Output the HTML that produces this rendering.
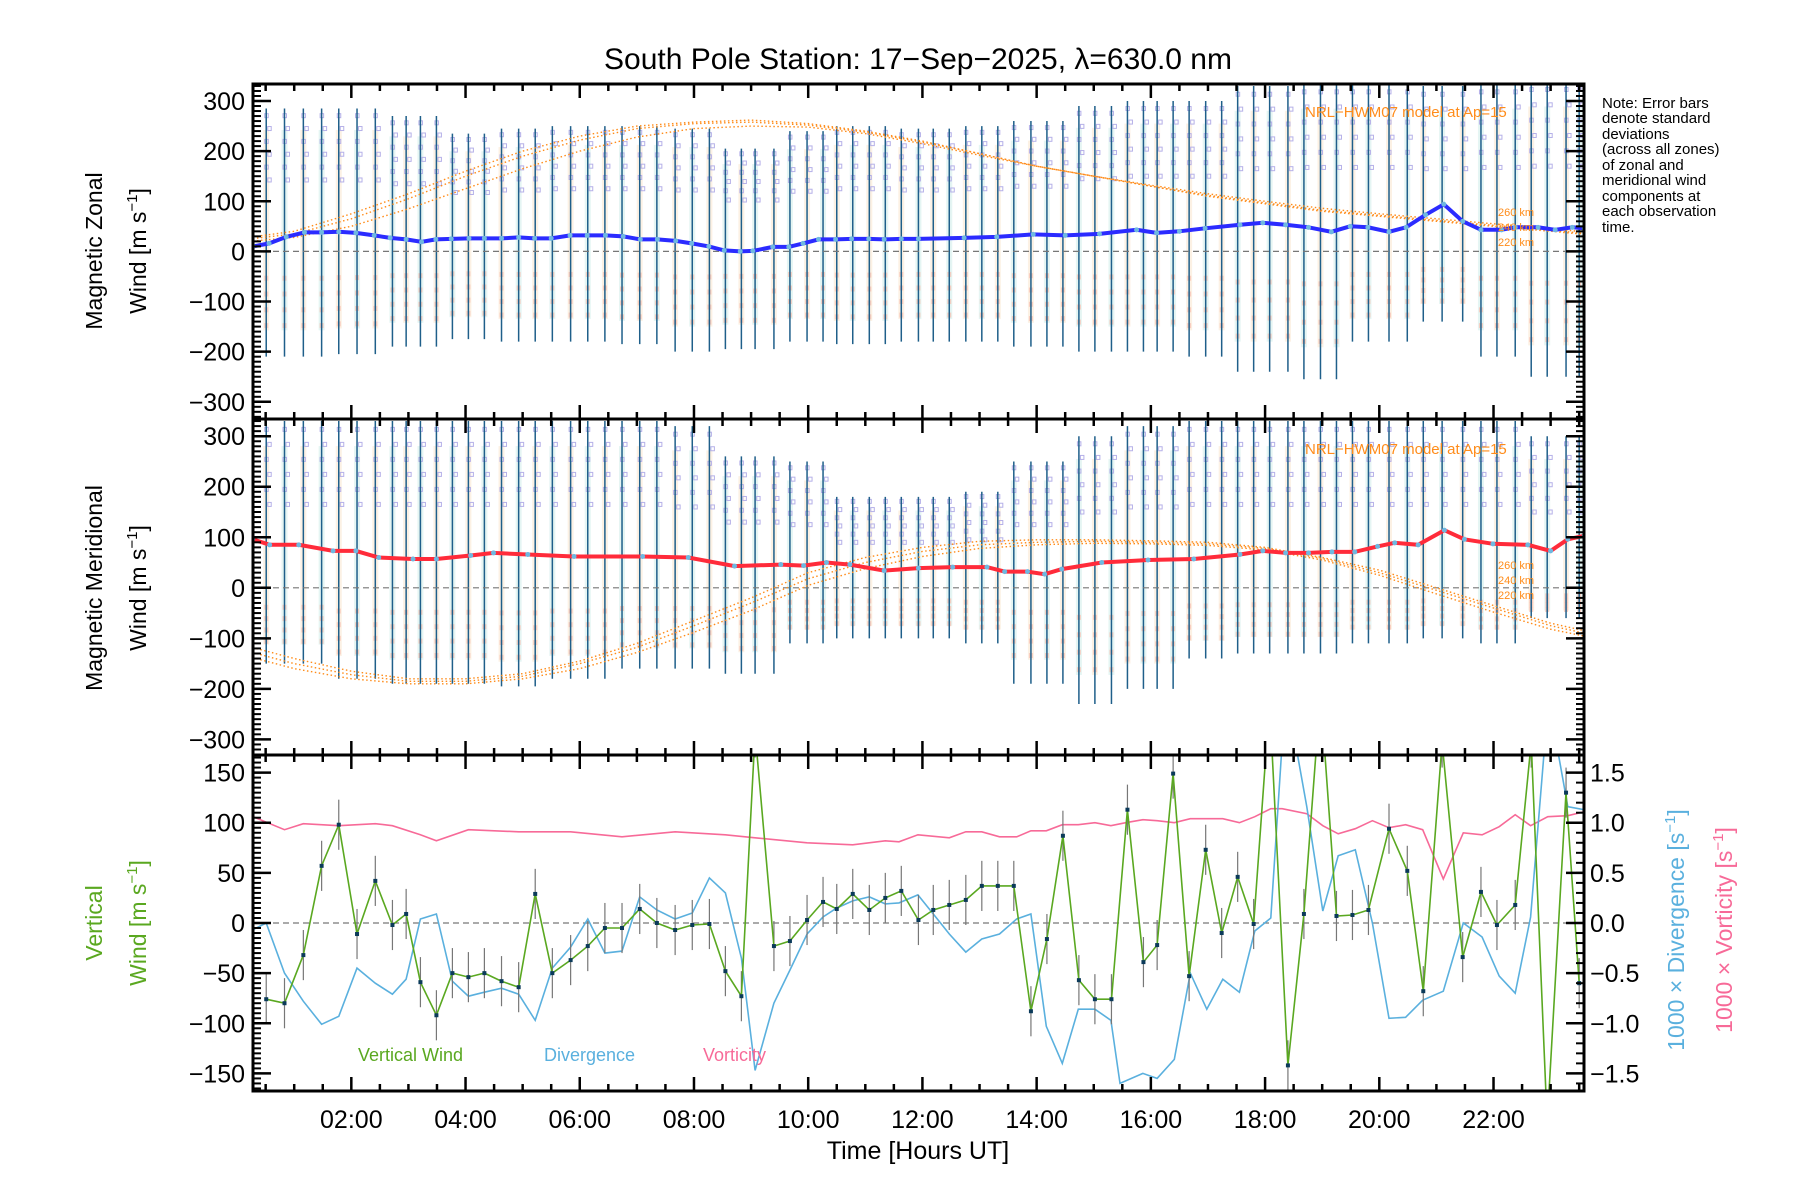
<!DOCTYPE html>
<html><head><meta charset="utf-8">
<style>
html,body{margin:0;padding:0;background:#fff;}
svg{display:block;font-family:"Liberation Sans",sans-serif;}
</style></head>
<body>
<svg id="chart" width="1800" height="1200" viewBox="0 0 1800 1200" xmlns="http://www.w3.org/2000/svg">
<defs>
<clipPath id="c1"><rect x="253" y="84" width="1331" height="335"/></clipPath>
<clipPath id="c2"><rect x="253" y="419" width="1331" height="336"/></clipPath>
<clipPath id="c3"><rect x="253" y="755" width="1331" height="336"/></clipPath>
</defs>
<text x="918" y="69" font-size="30" text-anchor="middle">South Pole Station: 17−Sep−2025, λ=630.0 nm</text>
<g id="g1" clip-path="url(#c1)"></g>
<g id="g2" clip-path="url(#c2)"></g>
<g id="g3" clip-path="url(#c3)"></g>
<g id="axes"></g>
<text transform="translate(102,251) rotate(-90)" font-size="23" text-anchor="middle">Magnetic Zonal</text>
<text transform="translate(146,251) rotate(-90)" font-size="23" text-anchor="middle">Wind [m s<tspan dy="-9" font-size="15">−1</tspan><tspan dy="9">]</tspan></text>
<text transform="translate(102,588) rotate(-90)" font-size="23" text-anchor="middle">Magnetic Meridional</text>
<text transform="translate(146,588) rotate(-90)" font-size="23" text-anchor="middle">Wind [m s<tspan dy="-9" font-size="15">−1</tspan><tspan dy="9">]</tspan></text>
<text transform="translate(102,923) rotate(-90)" font-size="23" text-anchor="middle" fill="#5aa820">Vertical</text>
<text transform="translate(146,923) rotate(-90)" font-size="23" text-anchor="middle" fill="#5aa820">Wind [m s<tspan dy="-9" font-size="15">−1</tspan><tspan dy="9">]</tspan></text>
<text transform="translate(1684,930) rotate(-90)" font-size="23" text-anchor="middle" fill="#5ab0de">1000 × Divergence [s<tspan dy="-9" font-size="15">−1</tspan><tspan dy="9">]</tspan></text>
<text transform="translate(1732,930) rotate(-90)" font-size="23" text-anchor="middle" fill="#f76a98">1000 × Vorticity [s<tspan dy="-9" font-size="15">−1</tspan><tspan dy="9">]</tspan></text>
<text x="918" y="1159" font-size="25" text-anchor="middle">Time [Hours UT]</text>
<g font-size="15">
<text x="1602" y="108">Note: Error bars</text>
<text x="1602" y="123">denote standard</text>
<text x="1602" y="139">deviations</text>
<text x="1602" y="154">(across all zones)</text>
<text x="1602" y="170">of zonal and</text>
<text x="1602" y="185">meridional wind</text>
<text x="1602" y="201">components at</text>
<text x="1602" y="216">each observation</text>
<text x="1602" y="232">time.</text>
</g>
<g font-size="15" fill="#ff8c1a">
<text x="1305" y="117">NRL−HWM07 model at Ap=15</text>
<text x="1305" y="454">NRL−HWM07 model at Ap=15</text>
</g>
<g font-size="11" fill="#ff8c1a">
<text x="1498" y="216">260 km</text>
<text x="1498" y="231">240 km</text>
<text x="1498" y="246">220 km</text>
<text x="1498" y="569">260 km</text>
<text x="1498" y="584">240 km</text>
<text x="1498" y="599">220 km</text>
</g>
<g font-size="18">
<text x="358" y="1061" fill="#5aa820">Vertical Wind</text>
<text x="544" y="1061" fill="#5ab0de">Divergence</text>
<text x="703" y="1061" fill="#f76a98">Vorticity</text>
</g>
</svg>
<script>
// ---- data ----
const hours = [0,1,2,3,4,5,6,7,8,9,10,11,12,13,14,15,16,17,18,19,20,21,22,23,24];
const zonalT = [0.28,0.56,0.86,1.18,1.48,1.78,2.08,2.4,2.68,2.96,3.23,3.48,3.75,4.06,4.33,4.63,4.93,5.21,5.5,5.83,6.13,6.45,6.76,7.06,7.36,7.68,7.96,8.26,8.53,8.81,9.03,9.38,9.66,9.91,10.18,10.48,10.76,11.06,11.33,11.63,11.93,12.73,13.3,13.94,14.5,15.1,15.75,16.1,16.5,16.95,17.56,17.96,18.36,18.76,19.16,19.49,19.8,20.17,20.47,20.81,21.13,21.46,21.78,22.14,22.38,22.78,23.08,23.38,23.59];
const zonalV = [10,16,29,38,38,39,37,32,27,24,19,24,25,26,26,26,28,26,26,32,32,32,30,24,24,21,16,10,2,0,1,9,9,16,24,24,25,25,24,25,25,27,29,34,32,35,43,37,40,46,53,57,53,48,39,50,48,39,48,73,94,60,43,43,48,48,43,48,46];
const meridT = [0.27,0.57,1.08,1.68,2.08,2.48,3.08,3.49,4.09,4.49,5.09,5.9,7.1,7.9,8.71,9.52,9.92,10.32,10.73,11.33,11.93,12.53,13.13,13.44,13.84,14.14,14.44,15.14,15.95,16.75,17.56,17.96,18.36,18.76,19.17,19.57,19.97,20.27,20.68,21.14,21.49,21.99,22.6,23.0,23.3,23.59];
const meridV = [96,85,85,73,73,60,57,57,64,69,66,62,62,60,43,46,44,50,46,34,39,41,41,32,32,27,37,50,55,57,66,73,69,69,71,71,82,89,85,114,96,87,85,73,96,103];
const zonalHi = [290,285,285,270,235,245,250,250,245,205,240,250,245,250,260,290,300,300,330,335,335,330,335,340,340];
const zonalLo = [-210,-210,-205,-190,-175,-180,-180,-185,-200,-195,-180,-185,-180,-180,-190,-200,-200,-210,-240,-255,-180,-140,-210,-250,-250];
const meridHi = [320,330,330,330,330,330,330,330,320,260,250,180,180,190,250,300,320,330,330,330,330,330,330,300,300];
const meridLo = [-120,-150,-180,-190,-190,-195,-180,-160,-160,-170,-110,-100,-100,-110,-190,-230,-200,-140,-130,-130,-110,-100,-110,-60,-60];
const hwmZ260 = [25,40,75,115,160,200,230,250,258,262,255,240,220,195,170,150,130,110,95,80,70,60,50,40,30];
const hwmZ240 = [22,35,65,105,150,190,222,245,255,258,252,238,218,195,170,150,130,112,97,82,72,62,52,42,32];
const hwmZ220 = [18,28,50,85,125,165,200,228,245,250,248,235,215,192,170,150,132,115,100,86,75,65,55,45,35];
const hwmM260 = [-110,-140,-165,-180,-180,-170,-145,-110,-65,-20,30,60,80,92,95,95,93,90,80,60,35,0,-35,-70,-95];
const hwmM240 = [-120,-150,-172,-185,-185,-175,-150,-118,-75,-30,18,50,72,85,90,92,90,87,78,58,30,-5,-40,-75,-100];
const hwmM220 = [-130,-160,-180,-190,-190,-180,-160,-128,-88,-45,5,38,62,78,85,88,87,84,75,55,25,-12,-48,-82,-105];
const vertT = [0.51,0.83,1.16,1.48,1.78,2.10,2.42,2.72,2.96,3.21,3.49,3.77,4.05,4.33,4.63,4.93,5.22,5.52,5.84,6.14,6.44,6.74,7.05,7.35,7.67,7.97,8.27,8.55,8.83,9.07,9.40,9.68,9.98,10.26,10.5,10.78,11.07,11.35,11.63,11.93,12.19,12.47,12.76,13.04,13.32,13.6,13.9,14.18,14.46,14.74,15.02,15.31,15.59,15.87,16.11,16.39,16.67,16.96,17.24,17.52,17.8,18.08,18.4,18.68,18.97,19.25,19.53,19.81,20.17,20.49,20.77,21.1,21.46,21.78,22.06,22.38,22.66,22.94,23.27,23.5];
const vertV = [-76,-80,-32,57,98,-11,42,-2,9,-59,-92,-50,-54,-50,-58,-64,29,-50,-37,-23,-5,-5,14,0,-7,-2,-1,-48,-73,190,-23,-18,3,21,14,29,13,25,32,3,13,18,23,37,37,37,-88,-16,87,-57,-76,-76,113,-39,-22,149,-53,73,-10,46,-1,220,-142,9,230,7,8,13,94,52,-68,180,-34,31,-2,18,180,-200,130,-60];
const divT = [0.3,0.51,0.83,1.16,1.48,1.78,2.10,2.42,2.72,2.96,3.21,3.49,3.77,4.05,4.33,4.63,4.93,5.22,5.52,5.84,6.14,6.44,6.74,7.05,7.35,7.67,7.97,8.27,8.55,8.83,9.07,9.4,9.68,9.98,10.26,10.5,10.78,11.07,11.35,11.59,11.92,12.19,12.47,12.76,13.04,13.35,13.65,13.9,14.17,14.45,14.73,15.02,15.3,15.46,15.86,16.11,16.41,16.69,16.98,17.26,17.55,17.82,18.1,18.3,18.53,18.73,19.01,19.28,19.58,19.88,20.17,20.46,20.76,21.12,21.47,21.8,22.1,22.38,22.65,22.9,23.1,23.3,23.59];
const divV = [-0.06,0,-0.5,-0.78,-1.01,-0.93,-0.45,-0.6,-0.71,-0.56,0.04,0.09,-0.58,-0.73,-0.69,-0.65,-0.71,-0.97,-0.45,-0.24,0.04,-0.3,-0.28,0.26,0.13,0.04,0.1,0.45,0.3,-0.35,-1.47,-0.8,-0.47,-0.11,0.06,0.15,0.22,0.26,0.19,0.2,0.28,0.09,-0.11,-0.29,-0.16,-0.11,0.04,0.09,-1.03,-1.4,-0.86,-0.86,-0.97,-1.6,-1.5,-1.55,-1.36,-0.5,-0.86,-0.56,-0.69,-0.08,0.05,1.8,1.8,1.16,0.12,0.67,0.73,0,-0.95,-0.94,-0.77,-0.68,0,-0.14,-0.53,-0.7,0.06,1.8,1.8,1.16,1.13];
const vortT = [0.28,0.83,1.16,1.78,2.42,2.72,3.21,3.49,4.05,4.93,5.84,6.74,7.67,8.55,9.07,9.98,10.78,11.35,11.59,11.92,12.47,12.76,13.04,13.35,13.65,13.9,14.17,14.45,14.73,15.02,15.3,15.56,15.86,16.11,16.41,16.69,17.26,17.55,17.82,18.1,18.3,18.73,19.01,19.28,19.58,19.88,20.17,20.46,20.76,21.12,21.47,21.8,22.1,22.38,22.65,22.95,23.3,23.59];
const vortV = [1.06,0.93,0.99,0.97,0.99,0.97,0.88,0.82,0.93,0.91,0.91,0.86,0.91,0.88,0.85,0.8,0.78,0.82,0.81,0.88,0.85,0.91,0.91,0.86,0.86,0.92,0.92,0.98,0.98,1.0,0.97,1.0,1.03,1.02,1.0,1.04,1.04,1.0,1.06,1.14,1.14,1.09,0.97,0.89,0.94,1.02,0.95,0.98,0.93,0.44,0.9,0.88,0.96,1.08,0.97,1.06,1.07,1.11];
const xTickLabels = ["02:00","04:00","06:00","08:00","10:00","12:00","14:00","16:00","18:00","20:00","22:00"];
const windTicks = [-300,-200,-100,0,100,200,300];
const vertTicks = [-150,-100,-50,0,50,100,150];
const rightTicks = ["−1.5","−1.0","−0.5","0.0","0.5","1.0","1.5"];

// ---- scales ----
const X0=253, X1=1584;
const xs = t => 237.1 + t*57.11;
const y1 = v => 251.4 - v*0.5013;
const y2 = v => 587.8 - v*0.5053;
const y3 = v => 923 - v*1.0027;
const y3r = v => 923 - v*100.27;
const NS='http://www.w3.org/2000/svg';
function mk(tag, parent, attrs){const e=document.createElementNS(NS,tag);for(const k in attrs)e.setAttribute(k,attrs[k]);parent.appendChild(e);return e;}
function pts(T,V,ys){return T.map((t,i)=>xs(t).toFixed(1)+','+ys(V[i]).toFixed(1)).join(' ');}
const g1=document.getElementById('g1'),g2=document.getElementById('g2'),g3=document.getElementById('g3'),ax=document.getElementById('axes');

function windPanel(g, ys, lineT, lineV, hi, lo, m260, m240, m220, color, pre){
  vertT.forEach((t,i)=>{
    const h=Math.min(24,Math.round(t));
    const x=xs(t);
    const col=mk('rect',g,{x:x-3,y:ys(hi[h]*0.85),width:6,height:ys(lo[h]*0.75)-ys(hi[h]*0.85),fill:i%2?'#dff3f0':'#fbeedd',opacity:0.8});
    
    
    for(let k=0;k<6;k++){
      const v=hi[h]*(0.95-k*0.09);
      const sq=mk('rect',g,{x:x-1.5+(k%2)*3,y:ys(v)-2,width:3.5,height:4,fill:'none',stroke:'#b5b0e8','stroke-width':1});
      
      
    }
    for(let k=0;k<4;k++){
      const v=lo[h]*(0.25+k*0.15);
      const sq=mk('rect',g,{x:x-2,y:ys(v)-2,width:4,height:5,fill:'#f8c6b6',opacity:0.8});
      
      
    }
    const eb=mk('line',g,{x1:x,x2:x,y1:ys(hi[h]),y2:ys(lo[h]),stroke:'#1f5f8a','stroke-width':1.5});
    
    
  });
  const zl=mk('line',g,{x1:X0,x2:X1,y1:ys(0),y2:ys(0),stroke:'#777','stroke-width':1.2,'stroke-dasharray':'6,4'});
  
  
  [m260,m240,m220].forEach((m,j)=>{
    const p=mk('polyline',g,{points:pts(hours,m,ys),fill:'none',stroke:'#ff8c1a','stroke-width':1.4,'stroke-dasharray':'1.5,2.5'});
    
    
  });
  const ln=mk('polyline',g,{points:pts(lineT,lineV,ys),fill:'none',stroke:color,'stroke-width':4});
  
  
  lineT.forEach((t,i)=>{
    const d=mk('circle',g,{cx:xs(t),cy:ys(lineV[i]),r:2.5,fill:'#6fb8e0'});
    
    
  });
}
windPanel(g1,y1,zonalT,zonalV,zonalHi,zonalLo,hwmZ260,hwmZ240,hwmZ220,'#2b2bff','zonal');
windPanel(g2,y2,meridT,meridV,meridHi,meridLo,hwmM260,hwmM240,hwmM220,'#ff2b3a','meridional');

const z3=mk('line',g3,{x1:X0,x2:X1,y1:y3(0),y2:y3(0),stroke:'#777','stroke-width':1.2,'stroke-dasharray':'6,4'});


const vo=mk('polyline',g3,{points:pts(vortT,vortV,y3r),fill:'none',stroke:'#f76a98','stroke-width':1.6});


const dv=mk('polyline',g3,{points:pts(divT,divV,y3r),fill:'none',stroke:'#5ab0de','stroke-width':1.6});


vertT.forEach((t,i)=>{
  const e=mk('line',g3,{x1:xs(t),x2:xs(t),y1:y3(vertV[i]+25),y2:y3(vertV[i]-25),stroke:'#777','stroke-width':1.2});
  
  
});
const vw=mk('polyline',g3,{points:pts(vertT,vertV,y3),fill:'none',stroke:'#5aa820','stroke-width':1.6});


vertT.forEach((t,i)=>{
  const d=mk('rect',g3,{x:xs(t)-2,y:y3(vertV[i])-2,width:4,height:4,fill:'#0b3a5a'});
  
  
});

const panels=[[84,419,y1,windTicks,10,334],[419,755,y2,windTicks,10,334],[755,1091,y3,vertTicks,5,167]];
panels.forEach((p,pi)=>{
  const [top,bot,ys,ticks,minorStep,lim]=p;
  const fr=mk('rect',ax,{x:X0,y:top,width:X1-X0,height:bot-top,fill:'none',stroke:'#000','stroke-width':3});
  
  
  for(let v=-lim+(lim%minorStep);v<=lim;v+=minorStep){
    const y=ys(v);
    mk('line',ax,{x1:X0,x2:X0+8,y1:y,y2:y,stroke:'#000','stroke-width':2});
    if(pi<2) mk('line',ax,{x1:X1,x2:X1-8,y1:y,y2:y,stroke:'#000','stroke-width':2});
  }
  ticks.forEach(v=>{
    const y=ys(v);
    mk('line',ax,{x1:X0,x2:X0+18,y1:y,y2:y,stroke:'#000','stroke-width':2.5});
    if(pi<2) mk('line',ax,{x1:X1,x2:X1-18,y1:y,y2:y,stroke:'#000','stroke-width':2.5});
    const tl=mk('text',ax,{x:X0-8,y:y+9,'font-size':25,'text-anchor':'end'});
    tl.textContent=(v<0?'−'+(-v):''+v);
    
    
  });
  for(let h=0.5;h<24;h+=0.5){
    const x=xs(h); if(x<X0||x>X1)continue;
    const L=(Math.abs(h%2)<1e-6)?14:7;
    mk('line',ax,{x1:x,x2:x,y1:top,y2:top+L,stroke:'#000','stroke-width':2.5});
    mk('line',ax,{x1:x,x2:x,y1:bot,y2:bot-L,stroke:'#000','stroke-width':2.5});
  }
});
rightTicks.forEach((s,i)=>{
  const v=-1.5+i*0.5, y=y3r(v);
  mk('line',ax,{x1:X1,x2:X1-18,y1:y,y2:y,stroke:'#000','stroke-width':2.5});
  const tl=mk('text',ax,{x:X1+6,y:y+9,'font-size':25});
  tl.textContent=s;
  
  
});
for(let v=-1.6;v<=1.65;v+=0.1){const y=y3r(v);mk('line',ax,{x1:X1,x2:X1-8,y1:y,y2:y,stroke:'#000','stroke-width':2});}
xTickLabels.forEach((s,i)=>{
  const tl=mk('text',ax,{x:xs(2+i*2),y:1128,'font-size':25,'text-anchor':'middle'});
  tl.textContent=s;
  
  
});
</script>
</body></html>
